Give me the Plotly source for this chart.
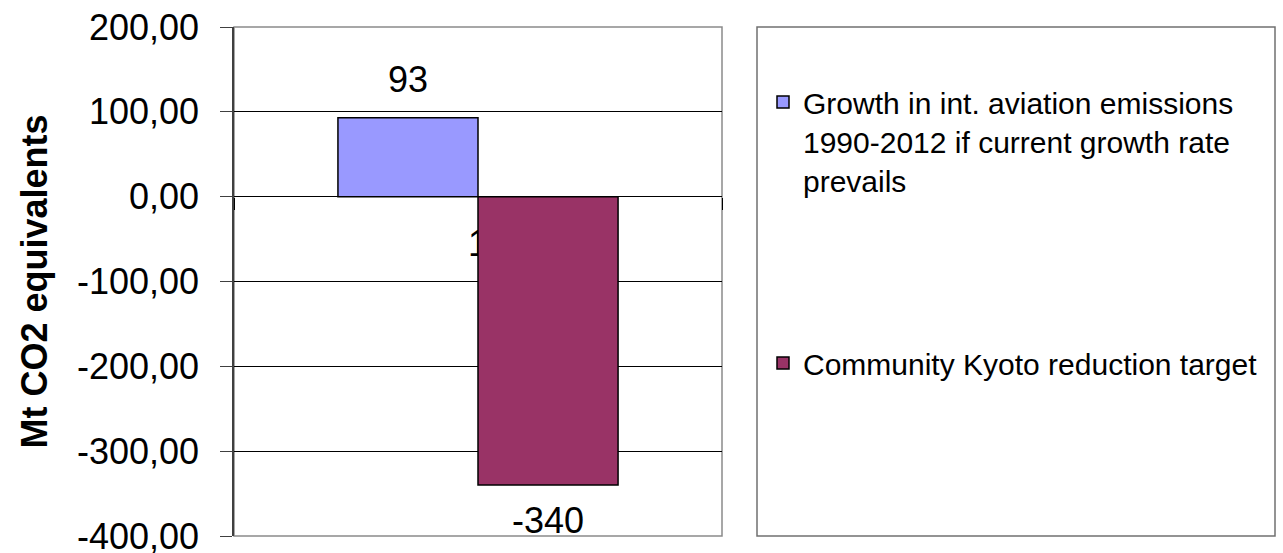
import plotly.graph_objects as go

# ---- data ----
categories = ["1"]
series_names = [
    "Growth in int. aviation emissions<br>1990-2012 if current growth rate<br>prevails",
    "Community Kyoto reduction target",
]
growth_values = [93]
kyoto_values = [-340]
series_values = [growth_values, kyoto_values]
series_colors = ["#9999FF", "#993366"]

y_tick_vals = [200, 100, 0, -100, -200, -300, -400]
y_tick_text = ["200,00", "100,00", "0,00", "-100,00", "-200,00", "-300,00", "-400,00"]
y_range = [-400, 200]

# ---- layout geometry (pixels) ----
W, H = 1283, 553
L, R, T, B = 234, 722, 27, 536
BARGAP = 0.426
FONT = "Liberation Sans, Arial, sans-serif"


def px_x(p):
    return (p - L) / (R - L)


def px_y(p):
    return (B - p) / (B - T)


fig = go.Figure()
for i, (name, vals, col) in enumerate(zip(series_names, series_values, series_colors)):
    fig.add_trace(go.Bar(
        x=categories, y=vals, name=name,
        marker=dict(color=col, line=dict(color="black", width=1.5)),
        legendgroup=f"g{i}",
    ))

# data labels
n = len(series_names)
bw = (1 - BARGAP) / n
annotations = []
for i, vals in enumerate(series_values):
    for j, v in enumerate(vals):
        off = -(1 - BARGAP) / 2 + bw * (i + 0.5)
        annotations.append(dict(
            x=j + off, y=v, xref="x", yref="y", text=f"{v:.0f}",
            showarrow=False, font=dict(family=FONT, size=36, color="black"),
            yshift=38 if v >= 0 else -35, yanchor="middle", xanchor="center",
        ))

zero_pos = (0 - y_range[0]) / (y_range[1] - y_range[0])

fig.update_layout(
    width=W, height=H,
    margin=dict(l=L, r=W - R, t=T, b=H - B, pad=0, autoexpand=False),
    paper_bgcolor="white", plot_bgcolor="white",
    bargap=BARGAP, bargroupgap=0, barmode="group",
    font=dict(family=FONT, color="black"),
    annotations=annotations,
    xaxis=dict(
        type="category", anchor="free", position=zero_pos, automargin=False,
        layer="below traces", showgrid=False, showline=False,
        ticks="outside", tickson="boundaries", ticklen=12, tickcolor="black",
        tickfont=dict(family=FONT, size=36, color="black"),
        ticklabelstandoff=22, zeroline=False,
    ),
    yaxis=dict(
        range=y_range, tickvals=y_tick_vals, ticktext=y_tick_text,
        automargin=False,
        showgrid=True, gridcolor="black", gridwidth=1,
        zeroline=True, zerolinecolor="black", zerolinewidth=1,
        showline=True, linecolor="#404040", linewidth=1.5,
        ticks="outside", ticklen=12, tickcolor="#404040",
        tickfont=dict(family=FONT, size=36, color="black"),
        ticklabelstandoff=14, ticklabeloverflow="allow",
        title=dict(text="Mt CO2 equivalents", standoff=18,
                   font=dict(family=FONT, size=36, color="black", weight="bold")),
    ),
    legend=dict(
        x=px_x(763), y=px_y(76), xanchor="left", yanchor="top",
        xref="paper", yref="paper",
        font=dict(family=FONT, size=30, color="black"),
        valign="top", traceorder="grouped", tracegroupgap=141,
        bgcolor="rgba(0,0,0,0)", borderwidth=0,
    ),
    shapes=[
        # plot area frame
        dict(type="rect", xref="paper", yref="paper", x0=0, x1=1, y0=0, y1=1,
             line=dict(color="#8a8a8a", width=1.5), layer="below"),
        # legend frame
        dict(type="rect", xref="paper", yref="paper",
             x0=px_x(757), x1=px_x(1275), y0=px_y(536), y1=px_y(27),
             line=dict(color="#707070", width=1.5)),
    ],
)

fig.write_html("out.html")
